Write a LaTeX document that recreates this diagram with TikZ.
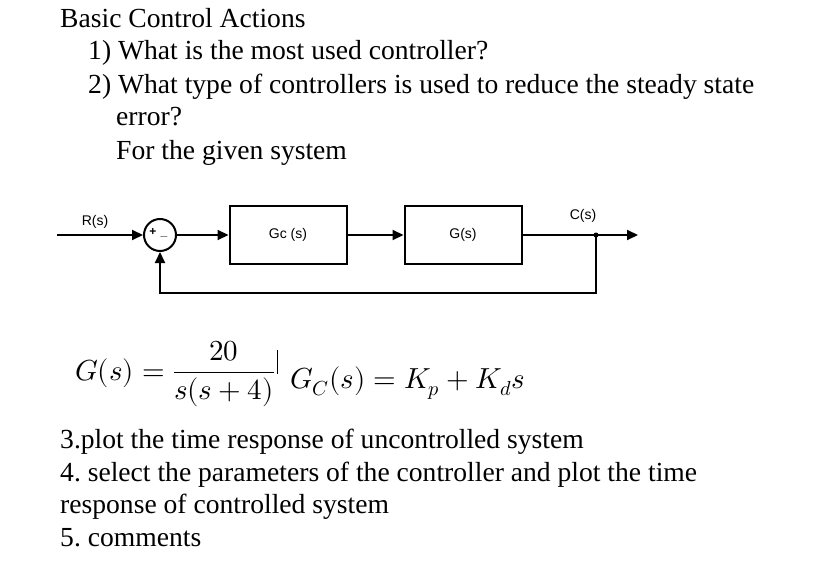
\documentclass[tikz,border=0pt]{standalone}
\usepackage{fontspec}
\usepackage{amsmath}
\usepackage{unicode-math}
\setmainfont{Liberation Serif}
\setmathfont{Latin Modern Math}
\newfontfamily\diag{Liberation Sans}
\usetikzlibrary{arrows.meta}
\frenchspacing
\begin{document}
\begin{tikzpicture}[x=1pt,y=-1pt,
  txt/.style={anchor=base west,inner sep=0,font=\fontsize{27.6}{30}\selectfont},
  blk/.style={draw,line width=2pt,minimum width=117pt,minimum height=58pt,font=\diag\fontsize{14}{16}\selectfont},
  sig/.style={line width=2pt,-{Triangle[length=11pt,width=10pt]}},
  lbl/.style={font=\diag\fontsize{14}{16}\selectfont,inner sep=0}]
\useasboundingbox[fill=white] (0,0) rectangle (814,580);
\node[txt] (t0) at (60,28) {Basic Control Actions};
\node[txt] (t1) at (88,60) {1) What is the most used controller?};
\node[txt] (t2) at (88,94) {2) What type of controllers is used to reduce the steady state};
\node[txt] (t3) at (116,126) {error?};
\node[txt] (t4) at (116,160) {For the given system};
% diagram
\coordinate (in) at (57,235);
\node[draw,circle,line width=2pt,minimum size=32pt,inner sep=0] (sum) at (160,235) {};
\node[font=\diag\bfseries\fontsize{12}{14}\selectfont,inner sep=0] (plus) at (153,232) {+};
\node[font=\diag\bfseries\fontsize{12}{14}\selectfont,inner sep=0] (minus) at (164,236) {\_};
\node[blk] (gc) at (288,235) {Gc (s)};
\node[blk] (g) at (463,235) {G(s)};
\coordinate (br) at (596,235);
\coordinate (out) at (638,235);
\coordinate (fb1) at (596,293);
\coordinate (fb2) at (160,293);
\fill (br) circle (2.5pt);
\draw[sig] (in) -- (sum.west);
\draw[sig] (sum.east) -- (gc.west);
\draw[sig] (gc.east) -- (g.west);
\draw[line width=2pt] (g.east) -- (br);
\draw[sig] (br) -- (out);
\draw[sig] (br) -- (fb1) -- (fb2) -- (sum.south);
\node[lbl] (r) at (95,222) {R(s)};
\node[lbl] (c) at (583,216) {C(s)};
% equations
\node[anchor=base west,inner sep=0,font=\fontsize{29}{32}\selectfont] (eq1) at (75,380)
 {$G(s)=\dfrac{20}{s(s+4)}$};
\draw[line width=1pt] (eq1.east) ++(2,-24) -- ++(0,24);
\node[anchor=base west,inner sep=0,font=\fontsize{29}{32}\selectfont] (eq2) at (290,388)
 {$G_C(s)=K_p+K_d s$};
\node[txt] (t5) at (60,448) {3.plot the time response of uncontrolled system};
\node[txt] (t6) at (60,481) {4. select the parameters of the controller and plot the time};
\node[txt] (t7) at (60,513) {response of controlled system};
\node[txt] (t8) at (60,546) {5. comments};
\end{tikzpicture}
\end{document}
